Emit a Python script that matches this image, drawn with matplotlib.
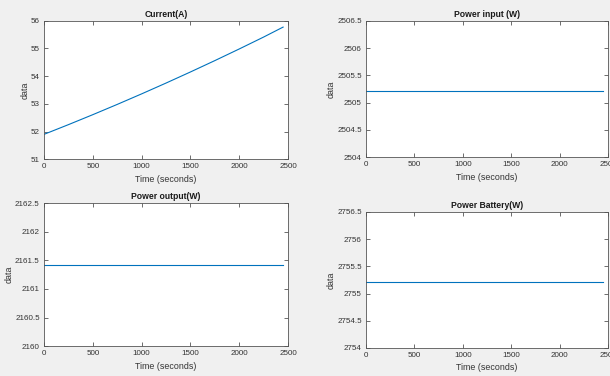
import matplotlib.pyplot as plt
from matplotlib.ticker import FuncFormatter, MultipleLocator

plt.rcParams['font.family'] = ['Liberation Sans', 'DejaVu Sans']

# time samples (seconds)
time_s = [0, 250, 500, 750, 1000, 1250, 1500, 1750, 2000, 2250, 2450]

# current rises slowly over the run
current_a = [51.9, 52.25, 52.61, 52.98, 53.36, 53.75, 54.15, 54.56, 54.98, 55.41, 55.77]

# the three power traces are flat
power_in = [2505.22] * len(time_s)
power_out = [2161.42] * len(time_s)
power_batt = [2755.22] * len(time_s)

titles = ['Current(A)', 'Power input (W)', 'Power output(W)', 'Power Battery(W)']
series = [current_a, power_in, power_out, power_batt]
ylims = [(51, 56), (2504, 2506.5), (2160, 2162.5), (2754, 2756.5)]
ysteps = [1, 0.5, 0.5, 0.5]

# axes boxes in figure fractions [left, bottom, width, height]
boxes = [
    [0.0721, 0.5763, 0.400, 0.3686],
    [0.6000, 0.5816, 0.3967, 0.3633],
    [0.0721, 0.0790, 0.400, 0.3811],
    [0.6000, 0.0745, 0.3967, 0.3617],
]

fig = plt.figure(figsize=(6.1, 3.76), dpi=100, facecolor='#f0f0f0')

for title, y, lim, step, box in zip(titles, series, ylims, ysteps, boxes):
    ax = fig.add_axes(box)
    ax.set_facecolor('white')
    ax.plot(time_s, y, color='#0072BD', lw=0.8)
    ax.set_xlim(0, 2500)
    ax.set_ylim(*lim)
    ax.xaxis.set_major_locator(MultipleLocator(500))
    ax.yaxis.set_major_locator(MultipleLocator(step))
    ax.yaxis.set_major_formatter(FuncFormatter(lambda v, p: '%g' % v))
    ax.tick_params(direction='in', top=True, right=True, length=3, width=0.5,
                   labelsize=5.8, colors='#333333', pad=3)
    for sp in ax.spines.values():
        sp.set_linewidth(0.6)
        sp.set_color('#555555')
    ax.set_title(title, fontsize=6.2, fontweight='bold', color='#1a1a1a', pad=3)
    ax.set_xlabel('Time (seconds)', fontsize=6.4, color='#333333', labelpad=3)
    ax.set_ylabel('data', fontsize=6.4, color='#333333', labelpad=1)

fig.savefig('out.png', dpi=100, facecolor=fig.get_facecolor())
